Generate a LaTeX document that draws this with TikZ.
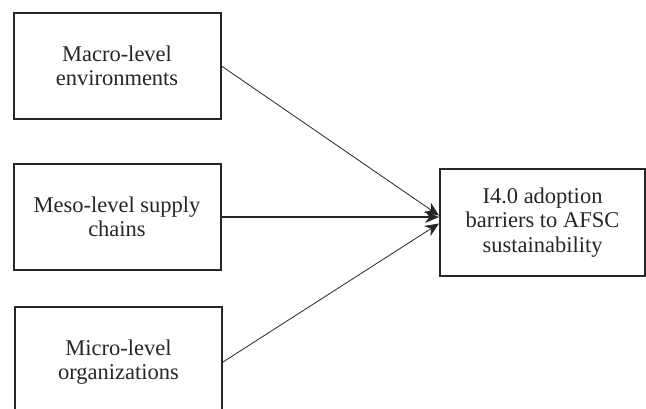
\documentclass[tikz,border=0pt]{standalone}
\usepackage{fontspec}
\setmainfont{Liberation Serif}
\usetikzlibrary{arrows.meta,calc}
\begin{document}
\begin{tikzpicture}[x=1pt,y=-1pt,
  box/.style={draw=black!85, line width=2pt, align=center, inner sep=0pt,
    font=\fontsize{22.5}{24.5}\selectfont, text=black!85},
  conn/.style={draw=black!85, line width=0.8pt, -{Stealth[length=14pt,width=12pt]}},
  thick conn/.style={conn, line width=2pt}]
\useasboundingbox (0,0) rectangle (646,408);
\node[box, minimum width=207pt, minimum height=106pt] (macro) at (117,66) {Macro-level\\environments};
\node[box, minimum width=207pt, minimum height=106pt] (meso) at (117,217) {Meso-level supply\\chains};
\node[box, minimum width=207pt, minimum height=110pt] (micro) at (118.5,362) {Micro-level\\organizations};
\node[box, minimum width=205pt, minimum height=107pt] (out) at (542.5,222.5) {I4.0 adoption\\barriers to AFSC\\sustainability};
\coordinate (e1) at ($(out.west)+(0,-7)$);
\coordinate (e2) at ($(out.west)+(0,-5.5)$);
\coordinate (e3) at ($(out.west)+(0,1)$);
\draw[conn] (macro.east) -- (e1);
\draw[thick conn] (meso.east) -- (e2);
\draw[conn] (micro.east) -- (e3);
\end{tikzpicture}
\end{document}
